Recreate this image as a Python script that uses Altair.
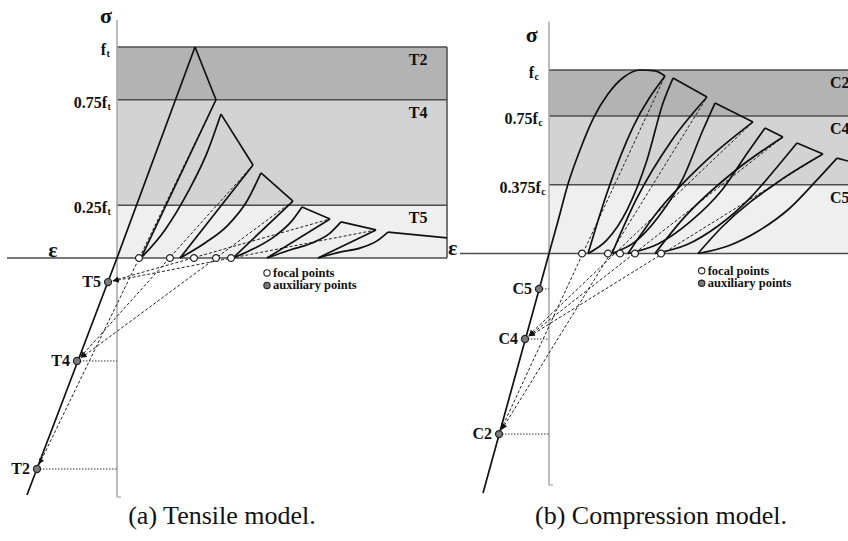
import math
import altair as alt
import pandas as pd

W, H = 848, 541

# ---------------------------------------------------------------------------
# Tensile model: strain in units of the peak strain, stress in units of f_t
# ---------------------------------------------------------------------------
T_ELASTIC_E = [-1.154, 0.0, 1.0]
T_ELASTIC_S = [-1.123, 0.0, 1.0]
T_PEAK_E = [1.0, 1.333, 1.846, 2.372, 2.872, 3.474]
T_PEAK_S = [1.0, 0.682, 0.403, 0.242, 0.171, 0.123]
T_UNL_E = [1.269, 1.744, 2.256, 2.731, 3.321]
T_UNL_S = [0.75, 0.441, 0.270, 0.185, 0.133]
T_TAIL_E, T_TAIL_S = 4.231, 0.095
T_RES_E = [0.308, 0.808, 1.487, 1.923, 2.577]
T_REL_E = [[0.615, 0.910, 1.154], [1.128, 1.423, 1.667], [1.769, 2.026, 2.231],
           [2.218, 2.500, 2.731], [2.859, 3.115, 3.333]]
T_REL_S = [[0.133, 0.313, 0.498], [0.071, 0.156, 0.270], [0.047, 0.104, 0.171],
           [0.038, 0.071, 0.118], [0.028, 0.047, 0.081]]
T_UNL_MID_E = [[], [], [], [], []]
T_UNL_MID_S = [[], [], [], [], []]
T_FOCAL_E = [0.282, 0.679, 0.987, 1.269, 1.462]
T_AUX = ["T5", "T4", "T2"]
T_AUX_E = [-0.115, -0.513, -1.026]
T_AUX_S = [-0.114, -0.488, -1.0]
T_TARGET = ["T2", "T4", "T4", "T5", "T5"]
T_DOTTED = ["T4", "T2"]
T_LEVELS = [1.0, 0.75, 0.25]
T_LEVEL_TEXT = ["f", "0.75f", "0.25f"]
T_BANDS = ["T2", "T4", "T5"]
T_BOX_RIGHT = 4.231
T_AXIS_LEFT = -1.41
T_SIGMA_TOP, T_SIGMA_BOTTOM = 1.128, -1.133

# ---------------------------------------------------------------------------
# Compression model: strain in units of the peak strain, stress in units of f_c
# ---------------------------------------------------------------------------
C_ELASTIC_E = [0.0, -0.725]
C_ELASTIC_S = [0.0, -1.305]
C_ENV_E = [0.0, 0.099, 0.209, 0.341, 0.495, 0.648, 0.824, 1.0, 1.165, 1.275]
C_ENV_S = [0.0, 0.177, 0.379, 0.564, 0.744, 0.869, 0.962, 1.0, 0.995, 0.967]
C_PEAK_E = [1.363, 1.824, 2.374, 2.725, 3.165]
C_PEAK_S = [0.956, 0.820, 0.684, 0.602, 0.520]
C_UNL_E = [1.275, 1.736, 2.242, 2.571, 3.011]
C_UNL_S = [0.967, 0.853, 0.717, 0.635, 0.542]
C_TAIL_E, C_TAIL_S = 3.286, 0.504
C_RES_E = [0.429, 0.692, 0.868, 1.165, 1.637]
C_REL_E = [[0.637, 0.857, 1.077, 1.253], [0.945, 1.209, 1.473, 1.692],
           [1.198, 1.549, 1.901, 2.187], [1.505, 1.857, 2.209, 2.516],
           [1.967, 2.319, 2.648, 2.945]]
C_REL_S = [[0.074, 0.237, 0.510, 0.820], [0.063, 0.204, 0.411, 0.673],
           [0.052, 0.172, 0.346, 0.553], [0.046, 0.150, 0.302, 0.477],
           [0.041, 0.128, 0.248, 0.401]]
C_UNL_MID_E = [[0.923, 0.637], [1.352, 0.956], [1.736, 1.165], [2.055, 1.462], [2.549, 1.890]]
C_UNL_MID_S = [[0.689, 0.330], [0.619, 0.292], [0.510, 0.210], [0.455, 0.183], [0.401, 0.139]]
C_FOCAL_E = [0.363, 0.648, 0.780, 0.945, 1.231]
C_AUX = ["C5", "C4", "C2"]
C_AUX_E = [-0.110, -0.264, -0.549]
C_AUX_S = [-0.193, -0.466, -0.984]
C_TARGET = ["C2", "C2", "C4", "C4", "C4"]
C_DOTTED = ["C5", "C4", "C2"]
C_LEVELS = [1.0, 0.75, 0.375]
C_LEVEL_TEXT = ["f", "0.75f", "0.375f"]
C_BANDS = ["C2", "C4", "C5"]
C_BOX_RIGHT = 3.40
C_AXIS_LEFT = -0.978
C_SIGMA_TOP, C_SIGMA_BOTTOM = 1.263, -1.262

BAND_FILL = ["#b3b3b3", "#d3d3d3", "#efefef"]

# page layout: pixel origin of each diagram and pixels per unit
LAYOUT = {
    "T": dict(ox=117, oy=258, kx=78.0, ky=211.0),
    "C": dict(ox=549, oy=253.5, kx=91.0, ky=183.5),
}

SERIF = "Liberation Serif"
INK = "#111111"


def scales(p):
    L = LAYOUT[p]
    xs = alt.Scale(domain=[-L["ox"] / L["kx"], (W - L["ox"]) / L["kx"]], nice=False, zero=False)
    ys = alt.Scale(domain=[(L["oy"] - H) / L["ky"], L["oy"] / L["ky"]], nice=False, zero=False)
    return xs, ys


def enc(p, e="e", s="s", **extra):
    xs, ys = scales(p)
    d = dict(x=alt.X(f"{e}:Q", scale=xs, axis=None), y=alt.Y(f"{s}:Q", scale=ys, axis=None))
    d.update(extra)
    return d


def px(p, dx=0.0, dy=0.0):
    """Convert a pixel offset (dx right, dy down) into data units."""
    L = LAYOUT[p]
    return dx / L["kx"], -dy / L["ky"]


def panel(p, spec):
    layers = []
    L = LAYOUT[p]
    levels = spec["levels"]

    # shaded stress bands
    lows = levels[1:] + [0.0]
    bands = pd.DataFrame({"e": 0.0, "e2": spec["box_right"], "s": lows, "s2": levels,
                          "fill": BAND_FILL})
    layers.append(alt.Chart(bands).mark_rect().encode(
        **enc(p), x2="e2:Q", y2="s2:Q", color=alt.Color("fill:N", scale=None)))

    # band borders and strain axis
    rules = pd.DataFrame({"e": [0.0] * len(levels) + [spec["axis_left"]],
                          "e2": [spec["box_right"]] * (len(levels) + 1),
                          "s": levels + [0.0]})
    layers.append(alt.Chart(rules).mark_rule(color="#4d4d4d", strokeWidth=1.5).encode(
        **enc(p), x2="e2:Q"))
    if p == "T":
        edge = pd.DataFrame({"e": [spec["box_right"]], "s": [0.0], "s2": [levels[0]]})
        layers.append(alt.Chart(edge).mark_rule(color="#4d4d4d", strokeWidth=1.5).encode(
            **enc(p), y2="s2:Q"))

    # stress axis
    sig = pd.DataFrame({"e": [0.0], "s": [spec["sig_bottom"]], "s2": [spec["sig_top"]]})
    layers.append(alt.Chart(sig).mark_rule(color="#a6a6a6", strokeWidth=1.5).encode(
        **enc(p), y2="s2:Q"))
    tick_dx, _ = px(p, 4)
    tick = pd.DataFrame({"e": [0.0], "e2": [tick_dx], "s": [spec["sig_bottom"]]})
    layers.append(alt.Chart(tick).mark_rule(color="#a6a6a6", strokeWidth=1.2).encode(
        **enc(p), x2="e2:Q"))

    # dotted level lines from auxiliary points to the stress axis
    aux = dict(zip(spec["aux"], zip(spec["aux_e"], spec["aux_s"])))
    dot = pd.DataFrame({"e": [aux[n][0] for n in spec["dotted"]], "e2": 0.0,
                        "s": [aux[n][1] for n in spec["dotted"]]})
    layers.append(alt.Chart(dot).mark_rule(color="#333333", strokeWidth=1.0,
                                           strokeDash=[1.5, 1.5]).encode(**enc(p), x2="e2:Q"))

    # dashed lines from unloading points to auxiliary points
    rows, heads = [], []
    for i, (ue, us) in enumerate(zip(spec["unl_e"], spec["unl_s"])):
        te, ts = aux[spec["target"][i]]
        rows += [{"seg": f"d{i}", "e": ue, "s": us}, {"seg": f"d{i}", "e": te, "s": ts}]
        vx, vy = (ue - te) * L["kx"], (us - ts) * L["ky"]
        n = math.hypot(vx, vy)
        ax, ay = te + vx / n * 9 / L["kx"], ts + vy / n * 9 / L["ky"]
        ang = math.degrees(math.atan2(-vx, -vy)) % 360
        heads.append({"e": ax, "s": ay, "ang": ang})
    layers.append(alt.Chart(pd.DataFrame(rows)).mark_line(
        color="#222222", strokeWidth=1.0, strokeDash=[3, 2]).encode(**enc(p), detail="seg:N"))
    layers.append(alt.Chart(pd.DataFrame(heads)).mark_point(
        shape="triangle", filled=True, color=INK, size=32, opacity=1).encode(
        **enc(p), angle=alt.Angle("ang:Q", scale=None)))

    # solid envelope, softening, unloading and reloading branches
    rows = []

    def add(name, es, ss):
        for e, s in zip(es, ss):
            rows.append({"seg": name, "e": e, "s": s})

    add("elastic", spec["elastic_e"], spec["elastic_s"])
    if spec.get("env_e"):
        add("env", spec["env_e"], spec["env_s"])
    pe, ps = spec["peak_e"], spec["peak_s"]
    ue, us = spec["unl_e"], spec["unl_s"]
    off = spec["peak_offset"]
    for k in range(len(pe)):
        j = k + off  # index of the unloading point reached by this softening branch
        if j < len(ue):
            add(f"soft{k}", [pe[k], ue[j]], [ps[k], us[j]])
        else:
            add(f"soft{k}", [pe[k], spec["tail"][0]], [ps[k], spec["tail"][1]])
    for i in range(len(ue)):
        add(f"unl{i}", [ue[i]] + spec["unl_mid_e"][i] + [spec["res_e"][i]],
            [us[i]] + spec["unl_mid_s"][i] + [0.0])
        k = i + 1 - off
        add(f"rel{i}", [spec["res_e"][i]] + spec["rel_e"][i] + [pe[k]],
            [0.0] + spec["rel_s"][i] + [ps[k]])
    layers.append(alt.Chart(pd.DataFrame(rows)).mark_line(
        color=INK, strokeWidth=1.7, interpolate="monotone").encode(**enc(p), detail="seg:N"))

    # focal and auxiliary points
    foc = pd.DataFrame({"e": spec["focal_e"], "s": 0.0})
    layers.append(alt.Chart(foc).mark_point(shape="circle", filled=True, fill="white",
                                            stroke="#222222", strokeWidth=1.2, size=48,
                                            opacity=1).encode(**enc(p)))
    auxdf = pd.DataFrame({"e": spec["aux_e"], "s": spec["aux_s"], "name": spec["aux"]})
    layers.append(alt.Chart(auxdf).mark_point(shape="circle", filled=True, fill="#7a7a7a",
                                              stroke="#222222", strokeWidth=1.2, size=50,
                                              opacity=1).encode(**enc(p)))

    # legend
    le, ls = spec["legend"]
    _, step = px(p, 0, 12.5)
    lg = pd.DataFrame({"e": [le, le], "s": [ls, ls + step], "fill": ["white", "#7a7a7a"],
                       "label": ["focal points", spec["aux_word"]]})
    layers.append(alt.Chart(lg).mark_point(shape="circle", filled=True, stroke="#222222",
                                           strokeWidth=1.1, size=40, opacity=1).encode(
        **enc(p), fill=alt.Fill("fill:N", scale=None)))
    gap, _ = px(p, 6)
    lg["et"] = lg["e"] + gap
    layers.append(alt.Chart(lg).mark_text(align="left", baseline="middle", font=SERIF,
                                          fontWeight="bold", fontSize=12.5, color=INK).encode(
        **enc(p, e="et"), text="label:N"))

    # auxiliary point names
    dx, _ = px(p, -7)
    auxdf["et"] = auxdf["e"] + dx
    layers.append(alt.Chart(auxdf).mark_text(align="right", baseline="middle", font=SERIF,
                                             fontWeight="bold", fontSize=16, color=INK).encode(
        **enc(p, e="et"), text="name:N"))

    # stress level labels with subscripts
    lab_right = spec["level_right"]
    _, dn = px(p, 0, 3)
    lv = pd.DataFrame({"e": lab_right, "s": [v + dn for v in levels], "t": spec["level_text"]})
    layers.append(alt.Chart(lv).mark_text(align="right", baseline="middle", font=SERIF,
                                          fontWeight="bold", fontSize=16, color=INK).encode(
        **enc(p), text="t:N"))
    _, dn2 = px(p, 0, 7)
    sub = pd.DataFrame({"e": lab_right, "s": [v + dn2 for v in levels], "t": spec["sub"]})
    layers.append(alt.Chart(sub).mark_text(align="left", baseline="middle", font=SERIF,
                                           fontWeight="bold", fontSize=10, dx=0.5,
                                           color=INK).encode(**enc(p), text="t:N"))

    # band names
    _, down = px(p, 0, 13)
    bn = pd.DataFrame({"e": spec["band_label_e"], "s": [v + down for v in levels],
                       "t": spec["bands"]})
    layers.append(alt.Chart(bn).mark_text(align=spec["band_align"], baseline="middle",
                                          font=SERIF, fontWeight="bold", fontSize=16,
                                          color=INK).encode(**enc(p), text="t:N"))

    # axis symbols
    sym = pd.DataFrame(spec["symbols"])
    for al in ("left", "center", "right"):
        part = sym[sym["align"] == al]
        if len(part):
            layers.append(alt.Chart(part).mark_text(align=al, baseline="middle", font=SERIF,
                                                    fontWeight="bold", fontSize=22,
                                                    color=INK).encode(**enc(p), text="t:N"))

    # caption
    cap = pd.DataFrame({"e": [spec["caption"][0]], "s": [spec["caption"][1]],
                        "t": [spec["caption"][2]]})
    layers.append(alt.Chart(cap).mark_text(align="center", baseline="middle", font=SERIF,
                                           fontSize=26, color=INK).encode(**enc(p), text="t:N"))
    return layers


tension = dict(
    levels=T_LEVELS, level_text=T_LEVEL_TEXT, sub=["t"] * 3, bands=T_BANDS,
    box_right=T_BOX_RIGHT, axis_left=T_AXIS_LEFT,
    sig_top=T_SIGMA_TOP, sig_bottom=T_SIGMA_BOTTOM,
    aux=T_AUX, aux_e=T_AUX_E, aux_s=T_AUX_S, target=T_TARGET, dotted=T_DOTTED,
    elastic_e=T_ELASTIC_E, elastic_s=T_ELASTIC_S,
    peak_e=T_PEAK_E, peak_s=T_PEAK_S, peak_offset=0,
    unl_e=T_UNL_E, unl_s=T_UNL_S, tail=(T_TAIL_E, T_TAIL_S),
    unl_mid_e=T_UNL_MID_E, unl_mid_s=T_UNL_MID_S,
    res_e=T_RES_E, rel_e=T_REL_E, rel_s=T_REL_S, focal_e=T_FOCAL_E,
    legend=(1.923, -0.071), aux_word="auxiliary points",
    level_right=[-0.141, -0.128, -0.128],
    band_label_e=[3.86, 3.86, 3.86], band_align="center",
    symbols=[{"e": -0.141, "s": 1.147, "t": "σ", "align": "center"},
             {"e": -0.82, "s": 0.038, "t": "ε", "align": "center"},
             {"e": 4.244, "s": 0.047, "t": "ε", "align": "left"}],
    caption=(1.346, -1.223, "(a) Tensile model."),
)

compression = dict(
    levels=C_LEVELS, level_text=C_LEVEL_TEXT, sub=["c"] * 3, bands=C_BANDS,
    box_right=C_BOX_RIGHT, axis_left=C_AXIS_LEFT,
    sig_top=C_SIGMA_TOP, sig_bottom=C_SIGMA_BOTTOM,
    aux=C_AUX, aux_e=C_AUX_E, aux_s=C_AUX_S, target=C_TARGET, dotted=C_DOTTED,
    elastic_e=C_ELASTIC_E, elastic_s=C_ELASTIC_S, env_e=C_ENV_E, env_s=C_ENV_S,
    peak_e=C_PEAK_E, peak_s=C_PEAK_S, peak_offset=1,
    unl_e=C_UNL_E, unl_s=C_UNL_S, tail=(C_TAIL_E, C_TAIL_S),
    unl_mid_e=C_UNL_MID_E, unl_mid_s=C_UNL_MID_S,
    res_e=C_RES_E, rel_e=C_REL_E, rel_s=C_REL_S, focal_e=C_FOCAL_E,
    legend=(1.678, -0.094), aux_word="auxiliary  points",
    level_right=[-0.165, -0.124, -0.091],
    band_label_e=[3.088, 3.088, 3.088], band_align="left",
    symbols=[{"e": -0.190, "s": 1.191, "t": "σ", "align": "center"}],
    caption=(1.231, -1.431, "(b) Compression model."),
)

layers = panel("T", tension) + panel("C", compression)

chart = (
    alt.layer(*layers)
    .resolve_scale(x="independent", y="independent")
    .properties(width=W, height=H, padding=0, background="white",
                autosize=alt.AutoSizeParams(type="none"))
    .configure_view(stroke=None)
)

chart.save("out.html", embed_options={"renderer": "svg", "actions": False})
